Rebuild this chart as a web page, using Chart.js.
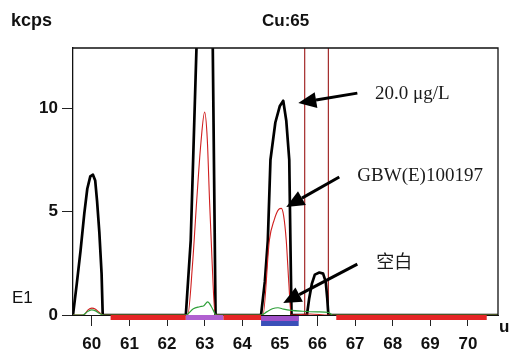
<!DOCTYPE html>
<html>
<head>
<meta charset="utf-8">
<script src="https://cdn.jsdelivr.net/npm/chart.js"></script>
<style>
  html, body { margin: 0; padding: 0; background: #fff; }
  #wrap { width: 509px; height: 350px; }
</style>
</head>
<body>
<div id="wrap"><canvas id="chart" width="509" height="350"></canvas></div>
<script>
// Cu:65 - espectro (kcps x u)

const xTicks = [60, 61, 62, 63, 64, 65, 66, 67, 68, 69, 70];
const yTicks = [0, 5, 10];
const xMin = 59.5, xMax = 70.8;
const yMin = 0, yMax = 12.9;

// curva preta: 20.0 ug/L
const blackX = [59.5, 59.6, 59.7, 59.8, 59.88, 59.96, 60.03, 60.09, 60.14, 60.2, 60.26, 60.29,
                62.5, 62.63, 62.76, 62.9, 63.1, 63.21, 63.29,
                64.5, 64.6, 64.68, 64.75, 64.88, 65.0, 65.09, 65.17, 65.25, 65.28, 65.31,
                65.72, 65.78, 65.85, 65.93, 66.05, 66.15, 66.22, 66.26, 66.29, 70.8];
const blackY = [0, 1.5, 3.1, 4.9, 6.1, 6.7, 6.78, 6.5, 5.5, 4.0, 2.0, 0,
                0, 3.6, 11.5, 20, 20, 14, 0,
                0, 1.6, 3.6, 7.5, 9.3, 10.1, 10.35, 9.4, 7.5, 3.6, 0,
                0, 0.8, 1.5, 1.95, 2.05, 2.0, 1.6, 0.8, 0, 0];

// curva vermelha: GBW(E)100197
const redX = [59.5, 59.78, 59.9, 60.0, 60.1, 60.2, 60.3,
              62.55, 62.68, 62.79, 62.9, 63.0, 63.07, 63.13, 63.2, 63.28,
              64.55, 64.72, 64.85, 64.97, 65.04, 65.1, 65.17, 65.24, 65.3,
              65.8, 66.3, 70.8];
const redY = [0, 0, 0.25, 0.33, 0.28, 0.12, 0,
              0, 2.5, 5.55, 8.3, 9.8, 8.5, 5.55, 2.5, 0,
              0, 3.6, 4.6, 5.1, 5.15, 4.8, 3.6, 1.5, 0,
              0.05, 0, 0];

// curva verde: branco
const greenX = [59.5, 59.75, 59.9, 60.0, 60.1, 60.2, 60.3,
                62.5, 62.7, 62.87, 62.98, 63.08, 63.18, 63.25, 63.3,
                64.5, 64.65, 64.8, 64.95, 65.1, 65.3, 65.6, 66.0, 66.3, 66.4, 70.8];
const greenY = [0, 0, 0.18, 0.25, 0.2, 0.08, 0,
                0, 0.3, 0.4, 0.45, 0.63, 0.4, 0.15, 0,
                0, 0.15, 0.3, 0.35, 0.28, 0.22, 0.18, 0.15, 0.12, 0, 0];

// linhas verticais da janela do pico
const markerX = [65.66, 66.29];

// janelas de integracao na linha de base
const winStart = [60.5, 62.5, 63.5, 64.5, 66.5];
const winEnd   = [62.5, 63.5, 64.5, 65.5, 70.5];
const winType  = ['bg', 'peak', 'bg', 'sel', 'bg'];

// anotacoes (setas e textos, em unidades do grafico)
const notes = ['20.0 \u03bcg/L', 'GBW(E)100197', '\u7a7a\u767d'];
const noteX = [67.53, 67.06, 67.56];
const noteY = [10.43, 6.47, 2.6];
const arrowFromX = [67.06, 66.58, 67.06];
const arrowFromY = [10.72, 6.67, 2.46];
const arrowToX = [65.49, 65.17, 65.09];
const arrowToY = [10.24, 5.22, 0.58];

const SANS = "'Liberation Sans', Arial, sans-serif";
const SERIF = "'Liberation Serif', 'Times New Roman', serif";

function pts(xs, ys) {
    return xs.map((x, i) => ({ x: x, y: ys[i] }));
}

function drawArrow(ctx, x1, y1, x2, y2) {
    const ang = Math.atan2(y2 - y1, x2 - x1);
    const len = 18, half = 8;
    const bx = x2 - len * Math.cos(ang), by = y2 - len * Math.sin(ang);
    ctx.beginPath();
    ctx.moveTo(x1, y1);
    ctx.lineTo(bx, by);
    ctx.lineWidth = 3;
    ctx.strokeStyle = '#000';
    ctx.stroke();
    ctx.beginPath();
    ctx.moveTo(x2, y2);
    ctx.lineTo(bx + half * Math.sin(ang), by - half * Math.cos(ang));
    ctx.lineTo(bx - half * Math.sin(ang), by + half * Math.cos(ang));
    ctx.closePath();
    ctx.fillStyle = '#000';
    ctx.fill();
}

// desenha moldura, janelas, setas e textos
const decorPlugin = {
    id: 'decor',
    afterDatasetsDraw(chart) {
        const { ctx, chartArea: a, scales } = chart;
        const x = scales.x, y = scales.y;
        ctx.save();

        // moldura topo / direita
        ctx.strokeStyle = '#111';
        ctx.lineWidth = 1.3;
        ctx.beginPath();
        ctx.moveTo(a.left, a.top);
        ctx.lineTo(a.right, a.top);
        ctx.lineTo(a.right, a.bottom);
        ctx.stroke();

        // janelas
        const base = y.getPixelForValue(0);
        winStart.forEach((s, i) => {
            const x0 = x.getPixelForValue(s), x1 = x.getPixelForValue(winEnd[i]);
            if (winType[i] === 'sel') {
                ctx.fillStyle = '#3a4fb8';
                ctx.fillRect(x0, base + 1, x1 - x0, 10);
                ctx.fillStyle = '#a050c8';
                ctx.fillRect(x0, base + 1, x1 - x0, 5);
            } else {
                ctx.fillStyle = winType[i] === 'peak' ? '#b060d0' : '#e52525';
                ctx.fillRect(x0, base, x1 - x0, 5);
            }
        });

        // setas
        arrowFromX.forEach((fx, i) => {
            drawArrow(ctx,
                x.getPixelForValue(fx), y.getPixelForValue(arrowFromY[i]),
                x.getPixelForValue(arrowToX[i]), y.getPixelForValue(arrowToY[i]));
        });

        // textos das setas
        ctx.fillStyle = '#1a1a1a';
        ctx.textAlign = 'left';
        notes.forEach((t, i) => {
            const cjk = /[\u4e00-\u9fff]/.test(t);
            ctx.font = cjk ? "18px 'Noto Sans CJK SC', sans-serif" : '19px ' + SERIF;
            ctx.textBaseline = cjk ? 'middle' : 'alphabetic';
            ctx.fillText(t, x.getPixelForValue(noteX[i]), y.getPixelForValue(noteY[i]));
        });

        // rotulos fixos
        ctx.fillStyle = '#111';
        ctx.textBaseline = 'alphabetic';
        ctx.font = 'bold 18px ' + SANS;
        ctx.fillText('kcps', 11, 26);
        ctx.font = 'bold 17px ' + SANS;
        ctx.fillText('Cu:65', 262, 26);
        ctx.fillText('u', 499, 332);
        ctx.font = '17px ' + SANS;
        ctx.fillText('E1', 12, 303);

        ctx.restore();
    }
};

const datasets = [
    {
        label: '20.0 ug/L',
        data: pts(blackX, blackY),
        borderColor: '#000',
        borderWidth: 2.7,
        borderJoinStyle: 'round',
        pointRadius: 0,
        tension: 0,
        order: 3
    },
    {
        label: 'GBW(E)100197',
        data: pts(redX, redY),
        borderColor: '#d01f1f',
        borderWidth: 1.1,
        pointRadius: 0,
        cubicInterpolationMode: 'monotone',
        order: 2
    },
    {
        label: 'branco',
        data: pts(greenX, greenY),
        borderColor: '#2fa03a',
        borderWidth: 1.2,
        pointRadius: 0,
        cubicInterpolationMode: 'monotone',
        order: 1
    }
];

// cada linha vertical vira um dataset proprio
markerX.forEach((m, i) => {
    datasets.push({
        label: 'janela ' + (i + 1),
        data: [{ x: m, y: yMin }, { x: m, y: yMax }],
        borderColor: '#a32a2a',
        borderWidth: 1.2,
        pointRadius: 0,
        order: 5
    });
});

const ctx = document.getElementById('chart').getContext('2d');
new Chart(ctx, {
    type: 'line',
    data: { datasets: datasets },
    options: {
        responsive: false,
        animation: false,
        devicePixelRatio: 1,
        layout: { padding: { top: 48, right: 11, left: 0, bottom: 0 } },
        plugins: {
            legend: { display: false },
            tooltip: { enabled: false }
        },
        scales: {
            x: {
                type: 'linear',
                min: xMin,
                max: xMax,
                afterFit: s => { s.height = 35; },
                afterBuildTicks: s => { s.ticks = xTicks.map(v => ({ value: v })); },
                grid: { drawOnChartArea: false, drawTicks: true, tickLength: 11, color: '#222', lineWidth: 1 },
                border: { display: true, color: '#111', width: 1 },
                ticks: {
                    color: '#111',
                    padding: 8,
                    maxRotation: 0,
                    autoSkip: false,
                    font: { family: SANS, size: 17, weight: 'bold' },
                    callback: v => String(v)
                }
            },
            y: {
                min: yMin,
                max: yMax,
                afterFit: s => { s.width = 73; },
                afterBuildTicks: s => { s.ticks = yTicks.map(v => ({ value: v })); },
                grid: { drawOnChartArea: false, drawTicks: true, tickLength: 11, color: '#222', lineWidth: 1 },
                border: { display: true, color: '#111', width: 1.3 },
                ticks: {
                    color: '#111',
                    padding: 4,
                    font: { family: SANS, size: 17, weight: 'bold' },
                    callback: v => String(v)
                }
            }
        }
    },
    plugins: [decorPlugin]
});
</script>
</body>
</html>
